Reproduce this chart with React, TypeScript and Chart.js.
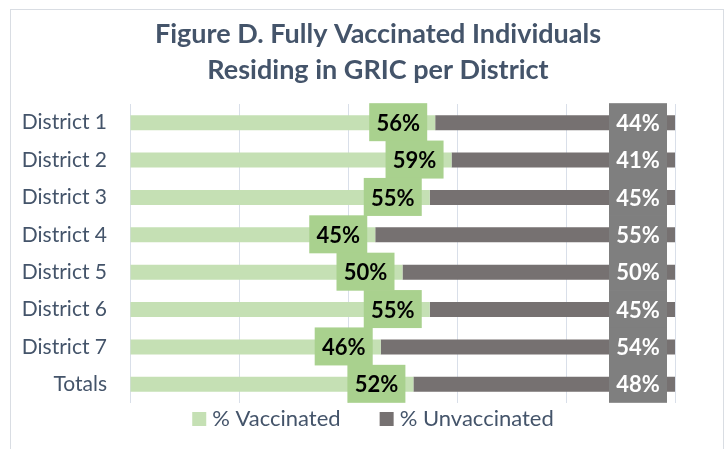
import React, { useEffect, useRef } from "react";
import { Chart, registerables } from "chart.js";

Chart.register(...registerables);

const categories = ["District 1", "District 2", "District 3", "District 4", "District 5", "District 6", "District 7", "Totals"];
const vaccinated = [56, 59, 55, 45, 50, 55, 46, 52];
const unvaccinated = [44, 41, 45, 55, 50, 45, 54, 48];
const seriesNames = ["% Vaccinated", "% Unvaccinated"];
const titleLines = ["Figure D. Fully Vaccinated Individuals", "Residing in GRIC per District"];

const TEXT = "#44546a";
const BAR_COLORS = ["#c5e0b4", "#767171"];
const LABEL_BG = ["#a9d18e", "#7f7f7f"];
const LABEL_FG = ["#000000", "#ffffff"];
const FONT = "Lato, 'DejaVu Sans', sans-serif";

const framePlugin = {
  id: "frame",
  beforeDraw(chart: any) {
    const ctx = chart.ctx;
    ctx.save();
    ctx.fillStyle = "#ffffff";
    ctx.fillRect(0, 0, chart.width, chart.height);
    ctx.strokeStyle = "#d9dde3";
    ctx.lineWidth = 1;
    ctx.strokeRect(10.5, 9.5, 713, 480);
    ctx.restore();
  },
};

const labelPlugin = {
  id: "boxLabels",
  afterDatasetsDraw(chart: any) {
    const ctx = chart.ctx;
    ctx.save();
    ctx.font = `bold 22px ${FONT}`;
    ctx.textAlign = "center";
    ctx.textBaseline = "middle";
    chart.data.datasets.forEach((ds: any, di: number) => {
      const meta = chart.getDatasetMeta(di);
      meta.data.forEach((bar: any, i: number) => {
        const w = 58;
        const h = 38;
        const right = bar.x - 8;
        const top = bar.y - 19.5;
        ctx.fillStyle = LABEL_BG[di];
        ctx.fillRect(right - w, top, w, h);
        ctx.fillStyle = LABEL_FG[di];
        ctx.fillText(`${ds.data[i]}%`, right - w / 2, bar.y + 1);
      });
    });
    ctx.restore();
  },
};

const titleLegendPlugin = {
  id: "titleLegend",
  afterDraw(chart: any) {
    const ctx = chart.ctx;
    ctx.save();
    // title
    ctx.fillStyle = TEXT;
    ctx.font = `bold 27px ${FONT}`;
    ctx.textAlign = "center";
    ctx.textBaseline = "alphabetic";
    ctx.fillText(titleLines[0], 378, 43);
    ctx.fillText(titleLines[1], 378, 79);
    // legend
    ctx.font = `22px ${FONT}`;
    ctx.textAlign = "left";
    const box = 14;
    const gap = 6;
    const spacing = 39;
    const widths = chart.data.datasets.map((d: any) => box + gap + ctx.measureText(d.label).width);
    const total = widths.reduce((a: number, b: number) => a + b, 0) + spacing * (widths.length - 1);
    let x = 373 - total / 2;
    chart.data.datasets.forEach((d: any, i: number) => {
      ctx.fillStyle = d.backgroundColor;
      ctx.fillRect(x, 412, box, box);
      ctx.fillStyle = TEXT;
      ctx.fillText(d.label, x + box + gap, 426);
      x += widths[i] + spacing;
    });
    ctx.restore();
  },
};

export default function App() {
  const ref = useRef<HTMLCanvasElement | null>(null);
  useEffect(() => {
    if (!ref.current) return;
    const chart = new Chart(ref.current, {
      type: "bar",
      data: {
        labels: categories,
        datasets: [
          { label: seriesNames[0], data: vaccinated, backgroundColor: BAR_COLORS[0] },
          { label: seriesNames[1], data: unvaccinated, backgroundColor: BAR_COLORS[1] },
        ],
      },
      options: {
        indexAxis: "y",
        responsive: false,
        animation: false,
        datasets: { bar: { barPercentage: 0.4, categoryPercentage: 1 } },
        layout: { padding: { left: 0, right: 51, top: 104, bottom: 46 } },
        plugins: { legend: { display: false }, title: { display: false }, tooltip: { enabled: false } },
        scales: {
          x: {
            stacked: true,
            min: 0,
            max: 100,
            ticks: { display: false, stepSize: 20 },
            grid: { color: "#d9dfe9", lineWidth: 1, drawTicks: false },
            border: { display: false },
            afterFit: (s: any) => { s.height = 0; },
          },
          y: {
            stacked: true,
            grid: { display: false, drawTicks: false },
            border: { display: false },
            ticks: { color: TEXT, font: { family: FONT, size: 21 }, padding: 23 },
            afterFit: (s: any) => { s.width = 130; },
          },
        },
      },
      plugins: [framePlugin, labelPlugin, titleLegendPlugin],
    } as any);
    return () => chart.destroy();
  }, []);
  return (
    <div style={{ position: "fixed", left: 0, top: 0, width: 726, height: 449, background: "#fff" }}>
      <canvas ref={ref} width={726} height={449} style={{ display: "block" }} />
    </div>
  );
}
